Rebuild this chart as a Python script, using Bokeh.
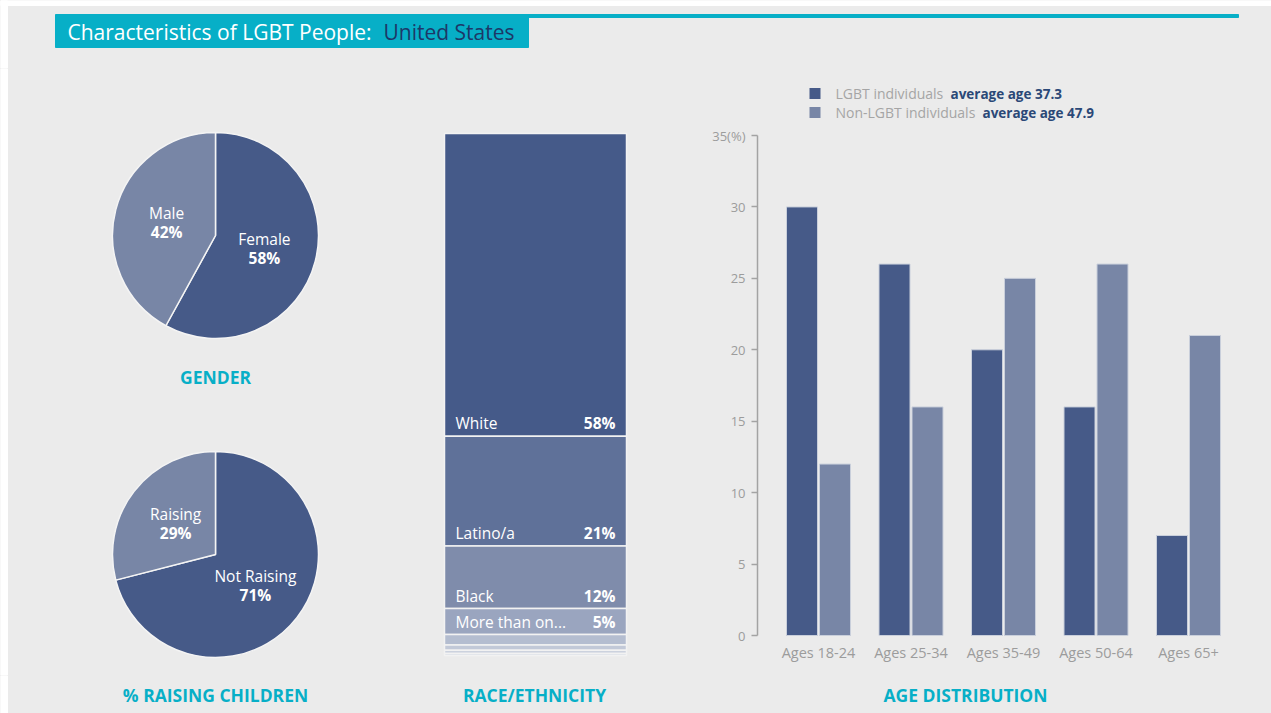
import math
from bokeh.plotting import figure
from bokeh.models import Range1d, FixedTicker
from bokeh.layouts import column, row
from bokeh.core.properties import value
from bokeh.embed import file_html
from bokeh.resources import INLINE

# ---------------- data ----------------
title_main = "Characteristics of LGBT People: "
title_place = "United States"

gender_labels = ["Female", "Male"]
gender_values = [58, 42]

children_labels = ["Not Raising", "Raising"]
children_values = [71, 29]

race_labels = ["White", "Latino/a", "Black", "More than one race", "Asian",
               "American Indian/Alaska Native", "Native Hawaiian/Pacific Islander", "Other"]
race_values = [58, 21, 12, 5, 2, 1, 0.6, 0.4]

age_labels = ["Ages 18-24", "Ages 25-34", "Ages 35-49", "Ages 50-64", "Ages 65+"]
lgbt_values = [30, 26, 20, 16, 7]
non_lgbt_values = [12, 16, 25, 26, 21]
series_names = ["LGBT individuals", "Non-LGBT individuals"]
avg_ages = [37.3, 47.9]

y_ticks = [0, 5, 10, 15, 20, 25, 30, 35]
section_titles = ["GENDER", "% RAISING CHILDREN", "RACE/ETHNICITY", "AGE DISTRIBUTION"]

# ---------------- style ----------------
BG = "#ebebeb"
CYAN = "#07afc7"
NAVY = "#1d3868"
DARK = "#465a88"
LIGHT = "#7886a6"
RACE_COLORS = ["#455a89", "#5f7199", "#7f8cab", "#9aa5bf", "#b4bdd0", "#c2c9d8", "#ccd2de", "#d5dae4"]
GREY_TXT = "#9c9c9c"
FONT = value("Open Sans")
W = 1271
HH, RH, FH = 68, 607, 38
ROW_TOP = HH           # page y of the row of charts
MARG_L, MARG_T = 7, 5  # white margin of the original graphic


def blank(w, h):
    return figure(width=w, height=h, x_range=Range1d(0, w), y_range=Range1d(0, h),
                  x_axis_type=None, y_axis_type=None, toolbar_location=None,
                  output_backend="svg", min_border=0, background_fill_color=BG,
                  border_fill_color=BG, outline_line_color=None)


# ---------------- header ----------------
hdr = blank(W, HH)
hdr.quad(left=0, right=W, top=HH, bottom=HH - MARG_T, color="white")
hdr.quad(left=0, right=MARG_L, top=HH, bottom=0, color="white")
hdr.quad(left=55, right=1238, top=HH - 14, bottom=HH - 17, color=CYAN)
hdr.quad(left=55, right=528, top=HH - 16, bottom=HH - 47, color=CYAN)
hdr.text(x=[67], y=[HH - 31], text=[title_main], text_color="white", text_font=FONT,
         text_font_size="21px", text_baseline="middle", text_align="left")
hdr.text(x=[383], y=[HH - 31], text=[title_place], text_color=NAVY, text_font=FONT,
         text_font_size="21px", text_baseline="middle", text_align="left")

# ---------------- pies ----------------
PW = 358
pie = blank(PW, RH)
pie.quad(left=0, right=MARG_L, top=RH, bottom=0, color="white")


def draw_pie(p, labels, values, cx, cy, r):
    total = float(sum(values))
    cum = 0.0
    starts, ends, mids = [], [], []
    for v in values:
        a0 = cum / total
        cum += v
        a1 = cum / total
        starts.append(math.pi / 2 - 2 * math.pi * a0)
        ends.append(math.pi / 2 - 2 * math.pi * a1)
        mids.append(math.pi / 2 - 2 * math.pi * (a0 + a1) / 2)
    p.wedge(x=cx, y=cy, radius=r, start_angle=starts, end_angle=ends, direction="clock",
            fill_color=[DARK, LIGHT], line_color="#f4f4f4", line_width=1.5)
    lx = [cx + 0.49 * r * math.cos(m) for m in mids]
    ly = [cy + 0.49 * r * math.sin(m) for m in mids]
    p.text(x=lx, y=[y + 9.5 for y in ly], text=labels, text_color="white", text_font=FONT,
           text_font_size="15.5px", text_align="center", text_baseline="middle")
    p.text(x=lx, y=[y - 9.5 for y in ly], text=[f"{v:g}%" for v in values], text_color="white",
           text_font=FONT, text_font_size="15.5px", text_font_style="bold",
           text_align="center", text_baseline="middle")


def rowy(py):
    return RH - (py - ROW_TOP)


draw_pie(pie, gender_labels, gender_values, 215, rowy(235), 103)
draw_pie(pie, children_labels, children_values, 215, rowy(554), 103)
pie.text(x=[215], y=[rowy(376)], text=[section_titles[0]], text_color=CYAN, text_font=FONT,
         text_font_size="17.5px", text_font_style="bold", text_align="center", text_baseline="middle")

# ---------------- race stacked bar ----------------
RW = 690 - PW
BAR_L, BAR_R, BAR_T, BAR_B = 444, 626, 133, 655
ppx = (BAR_R - BAR_L) / 1.0
ppy = (BAR_B - BAR_T) / 100.0
race = figure(width=RW, height=RH,
              x_range=Range1d(-(BAR_L - PW) / ppx, 1 + (PW + RW - BAR_R) / ppx),
              y_range=Range1d(100 + (ROW_TOP + RH - BAR_B) / ppy, -(BAR_T - ROW_TOP) / ppy),
              x_axis_type=None, y_axis_type=None, toolbar_location=None, output_backend="svg",
              min_border=0, background_fill_color=BG, border_fill_color=BG, outline_line_color=None)
tops, bottoms = [], []
c = 0.0
for v in race_values:
    tops.append(c)
    c += v
    bottoms.append(c)
race.quad(left=0, right=1, top=tops, bottom=bottoms, fill_color=RACE_COLORS,
          line_color="#f2f2f2", line_width=1.5)
shown = [i for i, v in enumerate(race_values) if v >= 5]


def short(s):
    return s if len(s) <= 14 else s[:12] + "..."


lab_y = [bottoms[i] - 13 / ppy for i in shown]
race.text(x=0, y=lab_y, text=[short(race_labels[i]) for i in shown], x_offset=11,
          text_color="white", text_font=FONT, text_font_size="15.5px",
          text_align="left", text_baseline="middle")
race.text(x=1, y=lab_y, text=[f"{race_values[i]:g}%" for i in shown], x_offset=-11,
          text_color="white", text_font=FONT, text_font_size="15.5px", text_font_style="bold",
          text_align="right", text_baseline="middle")

# ---------------- age distribution ----------------
AW = W - PW - RW
AX_L = 757            # page x of the y axis
X0 = 818              # page x of first group centre
PXU = 92.5
Y0 = 635              # page y of value 0
PYU = 500 / 35.0
age = figure(width=AW, height=RH,
             x_range=Range1d((AX_L - X0) / PXU, (W - X0) / PXU),
             y_range=Range1d(-(ROW_TOP + RH - Y0) / PYU, (Y0 - ROW_TOP) / PYU),
             toolbar_location=None, output_backend="svg",
             min_border_left=AX_L - (PW + RW), min_border_right=0, min_border_top=0, min_border_bottom=0,
             background_fill_color=BG, border_fill_color=BG, outline_line_color=None)
age.grid.visible = False
xs = list(range(len(age_labels)))
bw = 31 / PXU
off = 16.5 / PXU
age.vbar(x=[x - off for x in xs], top=lgbt_values, bottom=0, width=bw,
         fill_color=DARK, line_color="#c9cfdb", line_width=1)
age.vbar(x=[x + off for x in xs], top=non_lgbt_values, bottom=0, width=bw,
         fill_color=LIGHT, line_color="#c9cfdb", line_width=1)

ya = age.yaxis[0]
ya.ticker = FixedTicker(ticks=y_ticks)
ya.bounds = (0, 35)
ya.major_label_overrides = {35: "35(%)"}
ya.axis_line_color = "#a3a3a3"
ya.axis_line_width = 1.5
ya.major_tick_line_color = "#a3a3a3"
ya.major_tick_line_width = 1.5
ya.major_tick_out = 6
ya.major_tick_in = 0
ya.minor_tick_line_color = None
ya.major_label_text_color = GREY_TXT
ya.major_label_text_font = "Open Sans"
ya.major_label_text_font_size = "13px"
ya.major_label_standoff = 6

xa = age.xaxis[0]
xa.fixed_location = 0
xa.ticker = FixedTicker(ticks=xs)
xa.major_label_overrides = {i: lbl for i, lbl in enumerate(age_labels)}
xa.axis_line_color = None
xa.major_tick_line_color = None
xa.minor_tick_line_color = None
xa.major_label_text_color = GREY_TXT
xa.major_label_text_font = "Open Sans"
xa.major_label_text_font_size = "14.5px"
xa.major_label_standoff = 1


def ax(px):
    return (px - X0) / PXU


def ay(py):
    return (Y0 - py) / PYU


leg_y = [ay(93), ay(112)]
age.scatter(x=[ax(814.5)] * 2, y=leg_y, marker="square", size=11, fill_color=[DARK, LIGHT],
            line_color=None)
age.text(x=[ax(835)] * 2, y=leg_y, text=series_names, text_color="#a5a5a5", text_font=FONT,
         text_font_size="14px", text_align="left", text_baseline="middle")
age.text(x=[ax(950), ax(982)], y=leg_y, text=[f"average age {a:g}" for a in avg_ages],
         text_color="#2a4877", text_font=FONT, text_font_size="13.5px", text_font_style="bold",
         text_align="left", text_baseline="middle")

# ---------------- footer ----------------
foot = blank(W, FH)
foot.quad(left=0, right=MARG_L, top=FH, bottom=0, color="white")
foot.text(x=[215, 534, 965], y=[FH - (694 - (HH + RH))] * 3, text=section_titles[1:],
          text_color=CYAN, text_font=FONT, text_font_size="17.5px", text_font_style="bold",
          text_align="center", text_baseline="middle")

mid = row(pie, race, age, spacing=0, styles={"background-color": BG})
layout = column(hdr, mid, foot, spacing=0, styles={"background-color": BG})
html = file_html(layout, INLINE)
html = html.replace("<body>", '<body style="margin:0; overflow:hidden;">', 1)
open("out.html", "w").write(html)
